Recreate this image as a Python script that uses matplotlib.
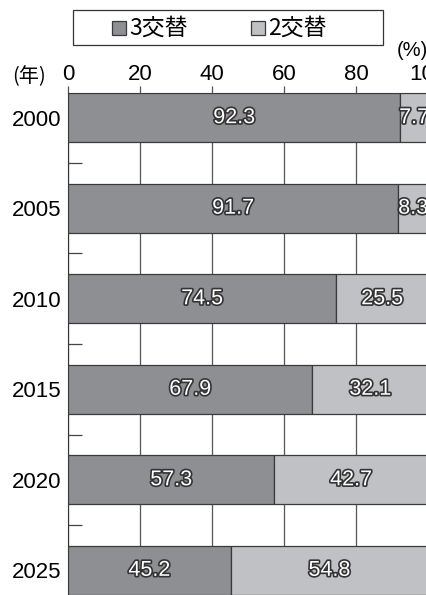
import matplotlib.pyplot as plt
import matplotlib.patheffects as pe
from matplotlib.patches import Rectangle
import numpy as np

years = ['2000', '2005', '2010', '2015', '2020', '2025']
three_shift = [92.3, 91.7, 74.5, 67.9, 57.3, 45.2]
two_shift = [7.7, 8.3, 25.5, 32.1, 42.7, 54.8]
series_names = ['3交替', '2交替']
xticks = [0, 20, 40, 60, 80, 100]

dark = '#8e8f93'
light = '#c0c1c4'
edge = '#3a3a3a'
jp = ['Noto Sans CJK JP', 'DejaVu Sans']
num = ['Liberation Sans', 'DejaVu Sans']

fig = plt.figure(figsize=(4.26, 5.95), dpi=100)
W, H = 426, 595
x0, x1 = 68, 428
y_top, y_bot = 93, 595
ax = fig.add_axes([x0 / W, 1 - y_bot / H, (x1 - x0) / W, (y_bot - y_top) / H])

y = np.arange(len(years))
h = 0.545
ax.barh(y, three_shift, height=h, color=dark, edgecolor=edge, linewidth=0.9, zorder=3)
ax.barh(y, two_shift, left=three_shift, height=h, color=light, edgecolor=edge, linewidth=0.9, zorder=3)

stroke = [pe.withStroke(linewidth=2.4, foreground='#333333')]
for i in range(len(years)):
    ax.text(three_shift[i] / 2, y[i], f'{three_shift[i]:.1f}', ha='center', va='center',
            fontsize=15.5, color='white', family=num, path_effects=stroke, zorder=5)
    ax.text(three_shift[i] + two_shift[i] / 2, y[i], f'{two_shift[i]:.1f}', ha='center', va='center',
            fontsize=15.5, color='white', family=num, path_effects=stroke, zorder=5)

ax.set_xlim(0, 100)
ax.set_ylim(len(years) - 1 + h / 2, -h / 2)
ax.xaxis.tick_top()
ax.set_xticks(xticks)
ax.set_xticklabels([str(t) for t in xticks], family=num, fontsize=16)
ax.tick_params(axis='x', length=5, width=0.9, color='#555555', pad=1)
ax.set_yticks(y)
ax.set_yticklabels(years, family=num, fontsize=16)
ax.tick_params(axis='y', length=0, pad=5)
ax.set_yticks(y[:-1] + 0.5, minor=True)
ax.tick_params(axis='y', which='minor', direction='in', length=10, width=0.9, color='#444444')
ax.grid(axis='x', color='#555555', linewidth=0.9, zorder=0)
for s in ['right', 'bottom']:
    ax.spines[s].set_visible(False)
ax.spines['left'].set_color('#333333')
ax.spines['top'].set_color('#333333')

fig.text(12 / W, 1 - 77 / H, '(年)', family=jp, fontsize=14.5, ha='left', va='center')
fig.text(397 / W, 1 - 50 / H, '(%)', family=num, fontsize=14.5, ha='left', va='center')

# legend box drawn by hand to match the reference layout
fig.add_artist(Rectangle((73 / W, 1 - 45 / H), 310 / W, 35 / H, transform=fig.transFigure,
                         facecolor='white', edgecolor='#333333', linewidth=0.9))
for name, c, sx in zip(series_names, [dark, light], [112, 251]):
    fig.add_artist(Rectangle((sx / W, 1 - 35 / H), 14 / W, 14 / H, transform=fig.transFigure,
                             facecolor=c, edgecolor=edge, linewidth=0.9))
    fig.text((sx + 17) / W, 1 - 28 / H, name, family=jp, fontsize=16.5, ha='left', va='center')

fig.savefig('out.png', dpi=100)
